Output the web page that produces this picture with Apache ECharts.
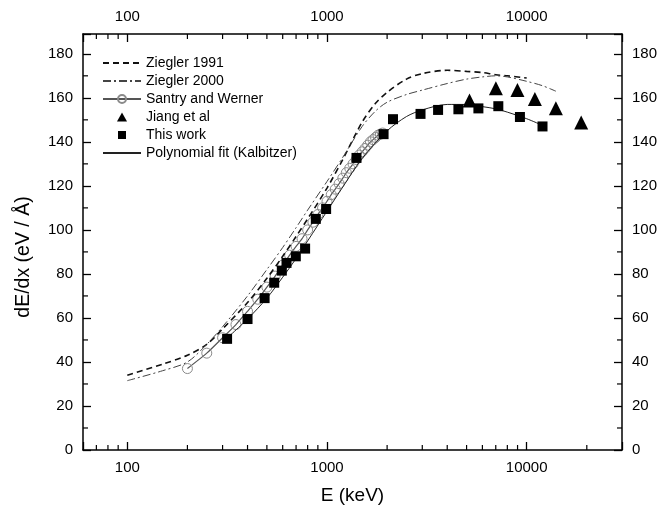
<!DOCTYPE html>
<html><head><meta charset="utf-8">
<script src="https://cdn.jsdelivr.net/npm/echarts@6/dist/echarts.min.js"></script>
<style>html,body{margin:0;padding:0;background:#fff}#c{width:660px;height:510px}</style>
</head><body><div id="c"></div>
<script>
// ---- data (E in keV, dE/dx in eV/Å) ----
const zieglerE1991 = [100, 150, 200, 250, 300, 400, 500, 600, 700, 800, 1000, 1200, 1500, 1750, 2000, 2500, 3000, 4000, 5000, 6000, 7000, 8000, 10000];
const ziegler1991  = [34, 39, 43, 48, 55, 67, 78, 88, 97, 105, 119, 132, 149, 157.5, 162.5, 168.5, 171, 172.5, 172, 171.5, 170.5, 170, 169];

const zieglerE2000 = [100, 150, 200, 250, 300, 400, 500, 600, 700, 800, 1000, 1200, 1500, 1750, 2000, 2500, 3000, 4000, 5000, 6000, 7000, 8000, 10000, 12000, 14000];
const ziegler2000  = [31.5, 36, 40, 48, 56, 70, 82, 92, 101, 109, 122, 133, 147, 154, 158, 161.5, 163.5, 166.5, 168.5, 169.5, 170, 169.5, 167.5, 165.5, 163];

const santryE = [200, 250, 300, 350, 400, 450, 500, 550, 600, 650, 700, 750, 800, 850, 900, 950, 1000, 1050, 1100, 1150, 1200, 1250, 1300, 1350, 1400, 1450, 1500, 1550, 1600, 1650, 1700, 1750, 1800, 1850, 1900];
const santry  = [37, 44, 51, 57, 63, 68.5, 74, 79, 84, 88.5, 92.5, 96, 100, 103.5, 107, 110, 113, 116, 118.5, 121, 123.5, 126, 128, 130, 132, 134, 135.5, 137, 138.5, 140, 141, 142, 143, 143.5, 144];

const jiangE = [5170, 7010, 8990, 10990, 14000, 18750];
const jiang  = [158.8, 164.4, 163.6, 159.5, 155.3, 148.8];

const thisWorkE = [316, 400, 487, 544, 594, 627, 698, 777, 879, 990, 1405, 1920, 2140, 2940, 3600, 4550, 5730, 7210, 9250, 12000];
const thisWork  = [50.5, 59.5, 69, 76, 81.5, 85, 88, 91.5, 105, 109.5, 132.7, 143.5, 150.3, 152.7, 154.5, 154.8, 155.2, 156.2, 151.3, 147];

const fitE = [300, 400, 500, 600, 700, 800, 1000, 1200, 1500, 2000, 2500, 3000, 4000, 5000, 6000, 7000, 8000, 10000, 12000];
const fit  = [49, 59.5, 69, 78.5, 87, 95, 108.5, 119.5, 132.5, 145, 151.5, 154.5, 157, 157, 156, 155, 153.5, 150.5, 147.5];

// ---- axes ----
const xMajorLabels = [100, 1000, 10000];
const xMinorTicks = [70, 80, 90, 200, 300, 400, 500, 600, 700, 800, 900, 2000, 3000, 4000, 5000, 6000, 7000, 8000, 9000, 20000];
const yMinorTicks = [10, 30, 50, 70, 90, 110, 130, 150, 170];
const X_MIN = 60, X_MAX = 30000, Y_MIN = 0, Y_MAX = 189;

const FONT = '"Liberation Sans", Arial, Helvetica, sans-serif';
const pairs = (xs, ys) => xs.map((x, i) => [x, ys[i]]);

const xAxisCommon = (pos) => ({
  type: 'log', logBase: 10, min: X_MIN, max: X_MAX, position: pos,
  axisLine: { show: true, onZero: false, lineStyle: { color: '#000', width: 1.5 } },
  axisTick: { show: true, inside: true, length: 8, lineStyle: { color: '#000', width: 1.3 } },
  axisLabel: { color: '#000', fontSize: 15, fontFamily: FONT, margin: 10,
    formatter: v => { const r = Math.round(v); return xMajorLabels.includes(r) ? String(r) : ''; } },
  splitLine: { show: false }, minorTick: { show: false }
});
const yAxisCommon = (pos) => ({
  type: 'value', min: Y_MIN, max: Y_MAX, interval: 20, position: pos,
  axisLine: { show: true, onZero: false, lineStyle: { color: '#000', width: 1.5 } },
  axisTick: { show: true, inside: true, length: 8, lineStyle: { color: '#000', width: 1.3 } },
  axisLabel: { color: '#000', fontSize: 15, fontFamily: FONT, margin: 10,
    formatter: v => (v % 20 === 0 ? String(v) : '') },
  splitLine: { show: false }
});

const xBottom = Object.assign(xAxisCommon('bottom'), {
  name: 'E (keV)', nameLocation: 'middle', nameGap: 36,
  nameTextStyle: { color: '#000', fontSize: 19, fontFamily: FONT }
});
const xTop = xAxisCommon('top');
const yLeft = Object.assign(yAxisCommon('left'), {
  name: 'dE/dx (eV / Å)', nameLocation: 'middle', nameGap: 49,
  nameTextStyle: { color: '#000', fontSize: 19.5, fontFamily: FONT, padding: [0, 30, 0, 0] }
});
const yRight = yAxisCommon('right');

const lineSeries = (name, xs, ys, style) => ({
  type: 'line', name, data: pairs(xs, ys), symbol: 'none', smooth: 0.3,
  lineStyle: style, itemStyle: { color: style.color }, z: 3
});

const TRI_ICON = 'path://M0 0M38 10M14 9.5L19 0.5L24 9.5Z';
const SQ_ICON = 'path://M0 0M38 10M15 1L23 1L23 9L15 9Z';

const chart = echarts.init(document.getElementById('c'));
chart.setOption({
  animation: false,
  backgroundColor: '#fff',
  grid: { left: 83, right: 36, top: 34, bottom: 60, containLabel: false },
  xAxis: [xBottom, xTop],
  yAxis: [yLeft, yRight],
  legend: {
    orient: 'vertical', left: 102, top: 56, padding: 0, itemWidth: 38, itemHeight: 10, itemGap: 4,
    textStyle: { color: '#000', fontSize: 14, fontFamily: FONT },
    data: [
      { name: 'Ziegler 1991', itemStyle: { opacity: 0 } },
      { name: 'Ziegler 2000', itemStyle: { opacity: 0 } },
      { name: 'Santry and Werner' },
      { name: 'Jiang et al', icon: TRI_ICON },
      { name: 'This work', icon: SQ_ICON },
      { name: 'Polynomial fit (Kalbitzer)', itemStyle: { opacity: 0 } }
    ]
  },
  series: [
    lineSeries('Ziegler 1991', zieglerE1991, ziegler1991, { color: '#111', width: 1.6, type: [6, 4] }),
    lineSeries('Ziegler 2000', zieglerE2000, ziegler2000, { color: '#444', width: 1, type: [8, 3, 2, 3] }),
    {
      type: 'line', name: 'Santry and Werner', data: pairs(santryE, santry), smooth: 0.2,
      symbol: 'circle', symbolSize: 10, showSymbol: true,
      lineStyle: { color: '#555', width: 1.2 },
      itemStyle: { color: 'rgba(255,255,255,0)', borderColor: '#8a8a8a', borderWidth: 1 }, z: 2
    },
    {
      type: 'scatter', name: 'Jiang et al', data: pairs(jiangE, jiang),
      symbol: 'triangle', symbolSize: 14, itemStyle: { color: '#000', opacity: 1 }, z: 5
    },
    {
      type: 'scatter', name: 'This work', data: pairs(thisWorkE, thisWork),
      symbol: 'rect', symbolSize: 10, itemStyle: { color: '#000', opacity: 1 }, z: 5
    },
    lineSeries('Polynomial fit (Kalbitzer)', fitE, fit, { color: '#222', width: 1 }),
    {
      type: 'custom', name: '_xminor', silent: true, z: 10, clip: false,
      data: xMinorTicks.map(v => [v, Y_MIN]),
      renderItem: (params, api) => {
        const b = api.coord([api.value(0), Y_MIN]);
        const t = api.coord([api.value(0), Y_MAX]);
        return { type: 'group', children: [
          { type: 'line', shape: { x1: b[0], y1: b[1], x2: b[0], y2: b[1] - 5 }, style: { stroke: '#000', lineWidth: 1.2 } },
          { type: 'line', shape: { x1: t[0], y1: t[1], x2: t[0], y2: t[1] + 5 }, style: { stroke: '#000', lineWidth: 1.2 } }
        ] };
      }
    },
    {
      type: 'custom', name: '_yminor', silent: true, z: 10, clip: false,
      data: yMinorTicks.map(v => [X_MIN, v]),
      renderItem: (params, api) => {
        const l = api.coord([X_MIN, api.value(1)]);
        const r = api.coord([X_MAX, api.value(1)]);
        return { type: 'group', children: [
          { type: 'line', shape: { x1: l[0], y1: l[1], x2: l[0] + 5, y2: l[1] }, style: { stroke: '#000', lineWidth: 1.2 } },
          { type: 'line', shape: { x1: r[0], y1: r[1], x2: r[0] - 5, y2: r[1] }, style: { stroke: '#000', lineWidth: 1.2 } }
        ] };
      }
    }
  ]
});
</script>
</body></html>
